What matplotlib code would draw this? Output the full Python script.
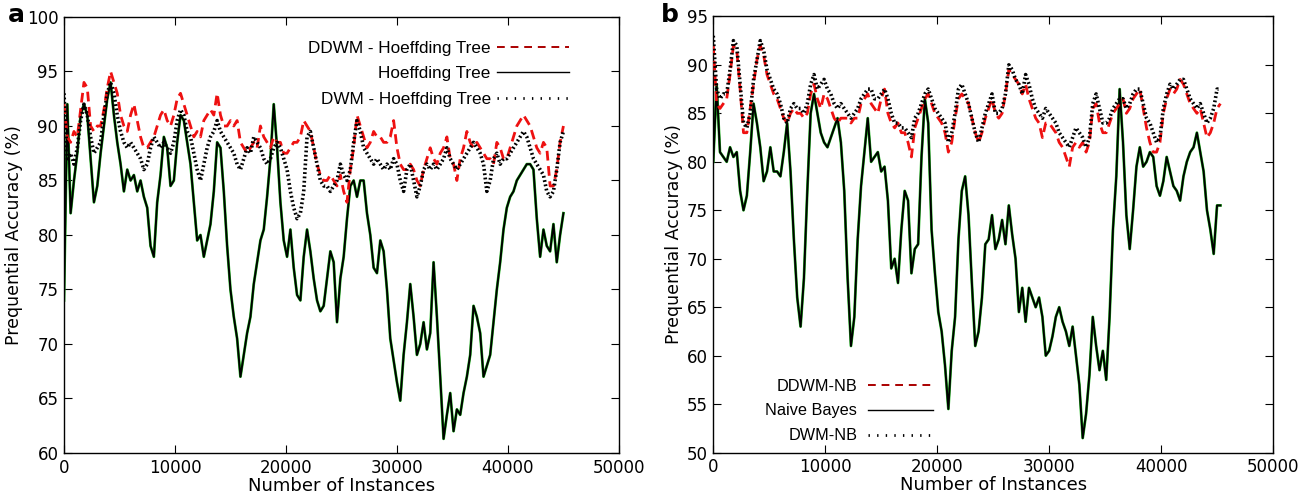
import numpy as np
import matplotlib
matplotlib.use("Agg")
import matplotlib.pyplot as plt
from matplotlib.lines import Line2D

# ---------------- data (step of 300 instances) ----------------
step = 300

ht_a = [74, 92, 82, 85, 87.5, 91, 92, 91, 87, 83, 84.5, 87.5, 90, 92.5, 94, 91, 88.5, 86.5, 84, 86,
        85, 85.5, 84, 85, 83.5, 82.5, 79, 78, 83, 85.5, 89, 88, 84.5, 85, 88.5, 91, 90.5, 88.5, 86.5, 83,
        79.5, 80, 78, 79.5, 81, 84, 88.5, 88, 84, 79, 75, 72.5, 70.5, 67, 69, 71, 72.5, 75.5, 77.5, 79.5,
        80.5, 83.5, 87, 92, 88, 83, 79.5, 78, 80.5, 77, 74.5, 74, 78, 80.5, 78.5, 76, 74, 73, 73.5, 76,
        78.5, 77.5, 72, 76, 78, 81.5, 84.5, 85, 83.5, 85, 85, 82, 80, 77, 76.5, 79.5, 78.5, 75, 70.5, 68.5,
        66.5, 64.8, 69, 72, 75.5, 72.5, 69, 70, 72, 69.5, 71, 77.5, 72.5, 67, 61.3, 63.5, 65.5, 62, 64, 63.5,
        65.5, 67, 69, 73.5, 72.5, 71, 67, 68, 69, 72, 75, 77.5, 80.5, 82.5, 83.5, 84, 85, 85.5, 86, 86.5,
        86.5, 86, 81.5, 78, 80.5, 79, 78.5, 81, 77.5, 80, 82]

ddwm_a = [92, 89, 88.5, 89.5, 89, 91.5, 94, 93.5, 90, 89.5, 90, 90, 91.5, 93.5, 95, 94, 93, 91, 90, 89.5,
          91, 92, 90.5, 89, 88, 88, 88.5, 89, 90, 91, 91.5, 90.5, 90, 91, 92.5, 93, 92, 91, 90, 89,
          89.5, 89, 90.5, 91, 91.5, 91, 93, 91, 90, 90, 90.5, 90, 90.5, 88.5, 88, 87.5, 88, 88.5, 88, 90,
          89, 88.5, 88, 89, 88.5, 88.5, 87.5, 87.5, 88, 88.5, 88.5, 89, 90.5, 90, 89.5, 88, 86.5, 85.5, 85, 85,
          85.5, 85, 84.5, 85.5, 84, 83, 86, 88, 91, 90, 89, 88, 88.5, 89.5, 89, 89, 88.5, 88.5, 89, 90.5,
          88, 86.5, 86, 86, 86.5, 86, 85, 84.5, 86, 87, 88, 87, 86.5, 87.5, 88, 89, 87, 86.5, 85, 87,
          88, 89.5, 88.5, 88, 88.5, 88, 87.5, 87, 87, 86.5, 88.5, 88, 87, 87, 88, 89, 90, 90.5, 91, 90.5,
          90, 89, 88, 87.5, 88.5, 88, 84.5, 84.5, 86, 88.5, 90]

dwm_a = [93, 87, 87.5, 86.5, 88, 90.5, 92, 91, 89, 87.5, 88, 88.5, 91, 93, 94, 93, 91, 89.5, 88.5, 88,
         88.5, 88, 87.5, 87, 86, 86.5, 88, 89, 88.5, 88, 88.5, 88, 87.5, 88.5, 90.5, 91.5, 91, 89.5, 89, 87.5,
         86, 85, 86.5, 88, 89, 89.5, 90.5, 89.5, 89, 88.5, 88, 87.5, 86.5, 86, 87, 88, 87.5, 89, 88.5, 88,
         87, 86.5, 87, 88, 88.5, 88, 87, 86, 84, 82.5, 81.5, 82, 84, 89, 89.5, 88, 86.5, 85, 84.5, 84.5,
         84, 84.5, 85, 86.5, 85.5, 85, 86, 88.5, 90.5, 89.5, 88, 87.5, 87, 86.5, 87, 86.5, 86, 86.5, 86, 87,
         86.5, 85, 84, 86, 86.5, 85, 83.5, 84.5, 86, 86.5, 86, 86.5, 86, 86.5, 87, 88, 87, 86.5, 86, 86.5,
         87, 87.5, 88, 88.5, 88, 87.5, 86.5, 84, 85, 87, 87.5, 86.5, 87, 87, 87.5, 88, 88.5, 89, 89.5, 89,
         88, 87, 86.5, 86, 85.5, 84, 83.5, 84, 86, 88.5, 89.5]

nb_b = [80, 88, 81, 80.5, 80, 81.5, 80.5, 81, 77, 75, 76.5, 81, 86, 84, 81.5, 78, 79, 81.5, 79, 79,
        78.5, 81, 84, 79, 72, 66, 63, 68, 77, 85, 87, 85, 83, 82, 81.5, 82.5, 83.5, 84.5, 82, 77,
        68, 61, 64, 72, 77.5, 81, 84.5, 80, 80.5, 81, 79, 79.5, 76, 69, 70, 67.5, 73, 77, 76, 68.5,
        71, 71.5, 80.5, 86.5, 84, 73, 68.5, 64.5, 62.5, 59, 54.5, 60.5, 64, 72, 77, 78.5, 74.5, 67.5, 61, 62.5,
        66, 71.5, 72, 74.5, 71, 72, 74, 71.5, 75.5, 72.5, 70, 64.5, 67, 63.5, 67, 66, 65, 66, 64, 60,
        60.5, 62, 64, 65, 63.5, 62.5, 61, 63, 60, 57, 51.5, 54, 58, 64, 61, 58.5, 60.5, 57.5, 64, 73,
        78.5, 87.5, 82, 74.5, 71, 75, 79.5, 81.5, 79.5, 80, 81, 80.5, 77.5, 76.5, 78, 80.5, 79, 77.5, 77, 76,
        78.5, 80, 81, 81.5, 83, 81, 79, 75, 73, 70.5, 75.5, 75.5]

ddwm_b = [92, 86, 85.5, 86, 86.5, 89, 92, 91.5, 87.5, 83, 83, 85.5, 88, 90.5, 92, 91, 89, 88, 87, 86.5,
          85.5, 84.5, 84, 85, 85.5, 85, 85, 84.5, 85, 87, 88, 86.5, 85.5, 87, 86.5, 85.5, 84.5, 84, 84.5, 84.5,
          84.5, 84, 84.5, 84.5, 86, 86.5, 87, 86, 85.5, 85, 86.5, 87.5, 85, 84, 83.5, 84, 83, 83, 82, 80.5,
          83.5, 84.5, 85.5, 86.5, 87, 86, 85, 84.5, 84, 83, 81, 82, 84.5, 86.5, 87, 86.5, 86, 84.5, 83, 82,
          83, 84.5, 85.5, 86.5, 85, 84.5, 85, 87, 89.5, 89, 88.5, 88, 87, 88, 86.5, 85.5, 84.5, 84, 82.5, 84,
          84, 83.5, 83, 82, 81.5, 80.5, 79.5, 81.5, 82, 81.5, 82, 81, 82, 85.5, 86, 84, 83, 83, 84, 85,
          85.5, 86, 86.5, 85, 85.5, 86.5, 87, 87.5, 85.5, 83.5, 82, 81, 81, 82, 85, 86.5, 87.5, 87, 87.5, 88.5,
          88, 87, 86, 85.5, 85, 85.5, 84, 82.5, 83, 84, 85.5, 86]

dwm_b = [93, 87.5, 86.5, 87, 87, 89.5, 92.5, 92, 88, 84, 83.5, 85, 88.5, 90.5, 92.5, 91.5, 89.5, 88.5, 87.5, 87,
         86, 84.5, 84, 85.5, 86, 85.5, 85.5, 85, 86, 88, 89, 87.5, 88, 88.5, 87.5, 87, 86, 85.5, 86, 85.5,
         85, 84.5, 85, 85.5, 86.5, 87, 87.5, 87.5, 86.5, 86.5, 87, 87.5, 86.5, 85, 84, 84, 83.5, 83.5, 83, 82.5,
         84.5, 85, 86, 87, 87.5, 86.5, 85.5, 85, 84.5, 84, 82, 83, 85, 87.5, 88, 87, 86, 84.5, 83, 82,
         83.5, 85, 86, 87, 85, 85, 85.5, 87, 90, 89.5, 88.5, 88, 87, 89, 88, 86.5, 85.5, 85, 84.5, 85.5,
         85, 84.5, 84, 83, 82.5, 82, 81.5, 82.5, 83.5, 83, 82.5, 81.5, 82.5, 86, 87, 85.5, 84, 84, 84.5, 85.5,
         86, 86.5, 86.5, 85.5, 86, 87, 87.5, 87.5, 86, 84.5, 84, 83, 82, 82.5, 85.5, 87, 88, 87.5, 88, 88.5,
         88.5, 87.5, 86.5, 86, 85.5, 86, 85, 84, 84.5, 85.5, 87.5, 87.5]

xticks = [0, 10000, 20000, 30000, 40000, 50000]
yticks_a = [60, 65, 70, 75, 80, 85, 90, 95, 100]
yticks_b = [50, 55, 60, 65, 70, 75, 80, 85, 90, 95]

labels_a = ["DDWM - Hoeffding Tree", "Hoeffding Tree", "DWM - Hoeffding Tree"]
labels_b = ["DDWM-NB", "Naive Bayes", "DWM-NB"]


def xs(v):
    return np.arange(len(v)) * step


fig = plt.figure(figsize=(13.03, 4.94), dpi=100)
ax_a = fig.add_axes([0.0491, 0.083, 0.4259, 0.8826])
ax_b = fig.add_axes([0.5474, 0.0838, 0.4296, 0.8830])


def draw(ax, ddwm, base, dwm, yticks, ylim):
    ax.plot(xs(base), base, color="#22bb22", lw=2.0, zorder=2)
    ax.plot(xs(base), base, color="black", lw=1.4, zorder=3)
    ax.plot(xs(ddwm), ddwm, color="#ee1111", lw=2.0, ls=(0, (3.5, 2.0)), zorder=4)
    ax.plot(xs(dwm), dwm, color="black", lw=2.6, ls=(0, (0.5, 0.7)), zorder=5)
    ax.set_xlim(0, 50000)
    ax.set_ylim(*ylim)
    ax.set_xticks(xticks)
    ax.set_yticks(yticks)
    ax.tick_params(direction="in", top=True, right=True, length=6, labelsize=12, pad=4)
    ax.set_xlabel("Number of Instances", fontsize=13, labelpad=0)
    ax.set_ylabel("Prequential Accuracy (%)", fontsize=12.5, labelpad=3)
    for s in ax.spines.values():
        s.set_linewidth(1.0)


leg_handles = [Line2D([], [], color="#aa0000", lw=1.4, ls=(0, (4, 3))),
               Line2D([], [], color="black", lw=1.0),
               Line2D([], [], color="black", lw=2.0, ls=(0, (0.5, 2.6)))]

draw(ax_a, ddwm_a, ht_a, dwm_a, yticks_a, (60, 100))
ax_a.legend(leg_handles, labels_a, loc="upper right", bbox_to_anchor=(0.937, 0.98),
            frameon=False, markerfirst=False,
            prop={"family": "Liberation Sans", "size": 12.3}, handlelength=4.2,
            labelspacing=0.6, handletextpad=0.35)

draw(ax_b, ddwm_b, nb_b, dwm_b, yticks_b, (50, 95))
ax_b.legend(leg_handles, labels_b, loc="lower left", bbox_to_anchor=(0.067, -0.012),
            frameon=False, markerfirst=False,
            prop={"family": "Liberation Sans", "size": 11.7}, handlelength=4.0,
            labelspacing=0.6, handletextpad=0.65)

fig.text(0.006, 0.955, "a", fontsize=18, fontweight="bold")
fig.text(0.507, 0.955, "b", fontsize=18, fontweight="bold")

fig.savefig("out.png", dpi=100)
